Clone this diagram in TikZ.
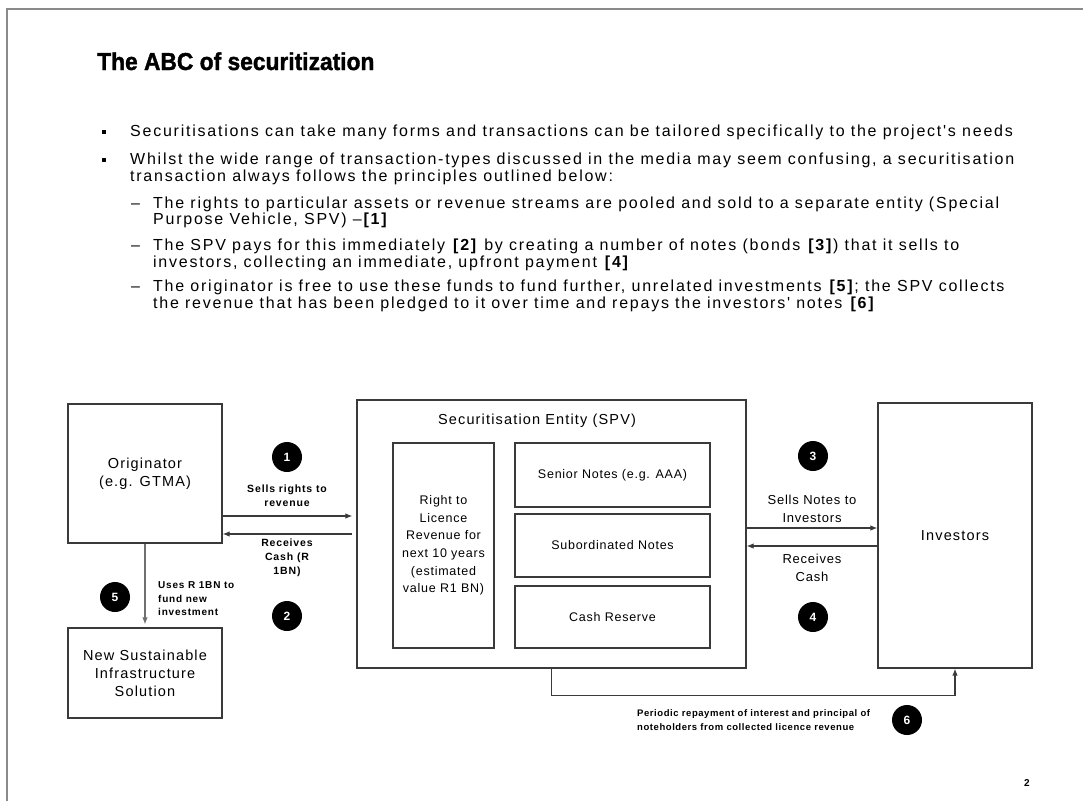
\documentclass[tikz,border=0pt]{standalone}
\usepackage{fontspec}
\setmainfont{Liberation Sans}
\newfontfamily\bodyfont[LetterSpace=11]{Liberation Sans}
\newfontfamily\boxfont[LetterSpace=8]{Liberation Sans}
\newfontfamily\notefont[LetterSpace=6]{Liberation Sans}
\newfontfamily\lblfont[LetterSpace=8]{Liberation Sans}
\newfontfamily\titlefont[FakeBold=1.5]{Liberation Sans Bold}
\usetikzlibrary{arrows.meta}
\definecolor{linegray}{HTML}{3A3A3A}
\definecolor{framegray}{HTML}{8A8A8A}
\definecolor{downgray}{HTML}{707070}
\begin{document}
\begin{tikzpicture}[x=1pt,y=-1pt,
  body/.style={anchor=base west,inner sep=0pt,font=\bodyfont\fontsize{16}{18}\selectfont},
  bulletmark/.style={fill=black,minimum size=4.5pt,inner sep=0pt},
  box/.style={draw=linegray,line width=1.3pt,inner sep=0pt},
  boxtext/.style={align=center,font=\boxfont\fontsize{14.5}{18}\selectfont},
  innertext/.style={align=center,font=\notefont\fontsize{12.5}{17.6}\selectfont},
  lbl/.style={align=center,inner sep=0pt,font=\lblfont\bfseries\fontsize{10.5}{14}\selectfont},
  num/.style={circle,fill=black,text=white,minimum size=30pt,inner sep=0pt,font=\bfseries\fontsize{12}{12}\selectfont},
  flow/.style={draw=linegray,line width=1.1pt,-{Latex[length=7pt,width=5.5pt]}},
]
\useasboundingbox (0,0) rectangle (1083,801);
\fill[white] (0,0) rectangle (1083,801);
% page frame
\draw[framegray,line width=2pt] (7,801) -- (7,9) -- (1083,9);

% title
\node[anchor=base west,inner sep=0pt,font=\titlefont\fontsize{24.5}{24.5}\selectfont] (title) at (97,70)
  {\scalebox{0.93}[1]{The ABC of securitization}};

% bullet text
\node[bulletmark] (b1) at (104,132) {};
\node[body] (t1) at (130,136) {Securitisations can take many forms and transactions can be tailored specifically to the project's needs};
\node[bulletmark] (b2) at (104,160) {};
\node[body] (t2a) at (130,164) {Whilst the wide range of transaction-types discussed in the media may seem confusing, a securitisation};
\node[body] (t2b) at (130,181) {transaction always follows the principles outlined below:};
\node[body] (d1) at (131,208) {\textendash};
\node[body] (t3a) at (153,208) {The rights to particular assets or revenue streams are pooled and sold to a separate entity (Special};
\node[body] (t3b) at (153,224) {Purpose Vehicle, SPV) \textendash\textbf{[1]}};
\node[body] (d2) at (131,250) {\textendash};
\node[body] (t4a) at (153,250) {The SPV pays for this immediately \textbf{[2]} by creating a number of notes (bonds \textbf{[3]}) that it sells to};
\node[body] (t4b) at (153,267) {investors, collecting an immediate, upfront payment \textbf{[4]}};
\node[body] (d3) at (131,291) {\textendash};
\node[body] (t5a) at (153,291) {The originator is free to use these funds to fund further, unrelated investments \textbf{[5]}; the SPV collects};
\node[body] (t5b) at (153,308) {the revenue that has been pledged to it over time and repays the investors' notes \textbf{[6]}};

% boxes
\node[box,boxtext,minimum width=154pt,minimum height=139pt] (orig) at (145,473.5) {Originator\\(e.g. GTMA)};
\node[box,boxtext,minimum width=154pt,minimum height=90pt] (nsis) at (145,673) {New Sustainable\\Infrastructure\\Solution};
\node[box,minimum width=389pt,minimum height=268pt] (spv) at (551.5,534) {};
\node[boxtext,inner sep=0pt] (spvtitle) at (537,421) {Securitisation Entity (SPV)};
\node[box,innertext,minimum width=101pt,minimum height=205pt] (right) at (443.5,545.5)
  {Right to\\Licence\\Revenue for\\next 10 years\\(estimated\\value R1 BN)};
\node[box,innertext,minimum width=195pt,minimum height=64pt] (senior) at (612.5,475) {Senior Notes (e.g. AAA)};
\node[box,innertext,minimum width=195pt,minimum height=63pt] (sub) at (612.5,545.5) {Subordinated Notes};
\node[box,innertext,minimum width=195pt,minimum height=62pt] (cash) at (612.5,617) {Cash Reserve};
\node[box,boxtext,minimum width=154pt,minimum height=265pt] (inv) at (955,535.5) {Investors};

% numbered markers
\node[num] (n1) at (287,457) {1};
\node[num] (n2) at (287,616) {2};
\node[num] (n3) at (813,456) {3};
\node[num] (n4) at (813,617) {4};
\node[num] (n5) at (115,597) {5};
\node[num] (n6) at (907,720) {6};

% flows between originator and SPV
\draw[flow,shorten >=4pt] (orig.east |- 0,516) -- (spv.west |- 0,516);
\draw[flow,shorten <=4pt] (spv.west |- 0,534) -- (orig.east |- 0,534);
\node[lbl] (l1) at (287,496) {Sells rights to\\revenue};
\node[lbl] (l2) at (287,558) {Receives\\Cash (R\\1BN)};

% flows between SPV and investors
\draw[flow] (spv.east |- 0,528) -- (inv.west |- 0,528);
\node[innertext,font=\notefont\fontsize{13}{17.5}\selectfont,inner sep=0pt] (l3) at (812,509) {Sells Notes to\\Investors};
\draw[flow] (inv.west |- 0,546) -- (spv.east |- 0,546);
\node[innertext,font=\notefont\fontsize{13}{17.5}\selectfont,inner sep=0pt] (l4) at (812,568) {Receives\\Cash};

% funding of the new investment
\draw[draw=downgray,line width=1.1pt,-{Latex[length=7pt,width=5.5pt]},shorten >=3pt] (orig.south) -- (nsis.north);
\node[lbl,align=left,anchor=west,font=\lblfont\bfseries\fontsize{10}{13.5}\selectfont] (l5) at (158,599) {Uses R 1BN to\\fund new\\investment};

% repayment loop
\draw[flow] (spv.south) -- ++(0,27) -| (inv.south);
\node[lbl,align=left,anchor=west,font=\notefont\bfseries\fontsize{9.5}{14}\selectfont] (l6) at (637,720) {Periodic repayment of interest and principal of\\noteholders from collected licence revenue};

% page number
\node[font=\bfseries\fontsize{10}{10}\selectfont,inner sep=0pt] (page) at (1027,783) {2};
\end{tikzpicture}
\end{document}
